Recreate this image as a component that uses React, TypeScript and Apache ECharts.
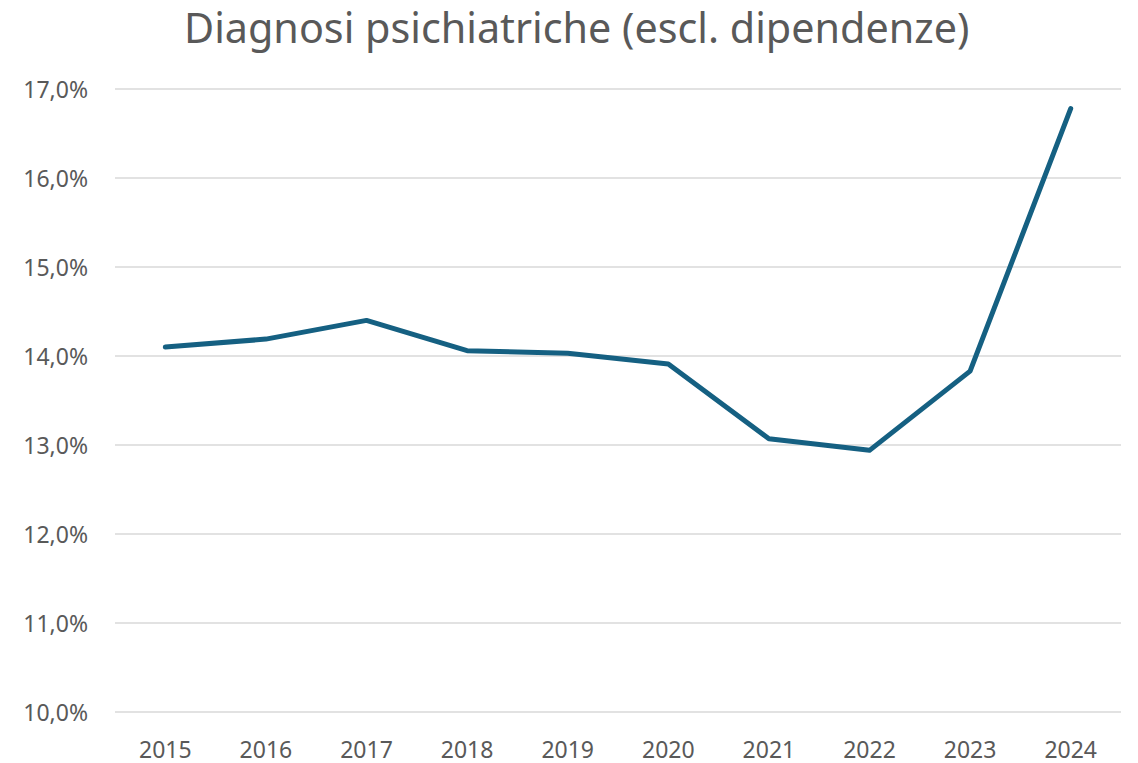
import React, { useEffect, useRef } from "react";
import * as echarts from "echarts";

const years = ["2015", "2016", "2017", "2018", "2019", "2020", "2021", "2022", "2023", "2024"];
const values = [14.1, 14.19, 14.4, 14.06, 14.03, 13.91, 13.07, 12.94, 13.83, 16.78];
const titleText = "Diagnosi psichiatriche (escl. dipendenze)";

export default function App() {
  const ref = useRef<HTMLDivElement>(null);
  useEffect(() => {
    if (!ref.current) return;
    const chart = echarts.init(ref.current, null, { renderer: "svg" });
    const font = "Noto Sans";
    chart.setOption({
      animation: false,
      backgroundColor: "#ffffff",
      title: {
        text: titleText,
        left: 179,
        top: 1,
        textStyle: { fontFamily: font, fontSize: 41.3, fontWeight: "normal", color: "#595959" },
      },
      grid: { left: 115, right: 17, top: 89, bottom: 51, containLabel: false },
      xAxis: {
        type: "category",
        data: years,
        boundaryGap: true,
        axisLine: { show: false },
        axisTick: { show: false },
        axisLabel: { fontFamily: font, fontSize: 23, color: "#595959", margin: 25 },
      },
      yAxis: {
        type: "value",
        min: 10,
        max: 17,
        interval: 1,
        axisLine: { show: false },
        axisTick: { show: false },
        splitLine: { lineStyle: { color: "#d9d9d9", width: 1.5 } },
        axisLabel: {
          fontFamily: font,
          fontSize: 23,
          color: "#595959",
          margin: 27,
          formatter: (v: number) => v.toFixed(1).replace(".", ",") + "%",
        },
      },
      series: [
        {
          type: "line",
          data: values,
          symbol: "none",
          lineStyle: { color: "#156082", width: 5, cap: "round", join: "round" },
        },
      ],
    });
    return () => chart.dispose();
  }, []);
  return (
    <div
      ref={ref}
      style={{ position: "absolute", left: 0, top: 0, width: 1138, height: 763 }}
    />
  );
}
